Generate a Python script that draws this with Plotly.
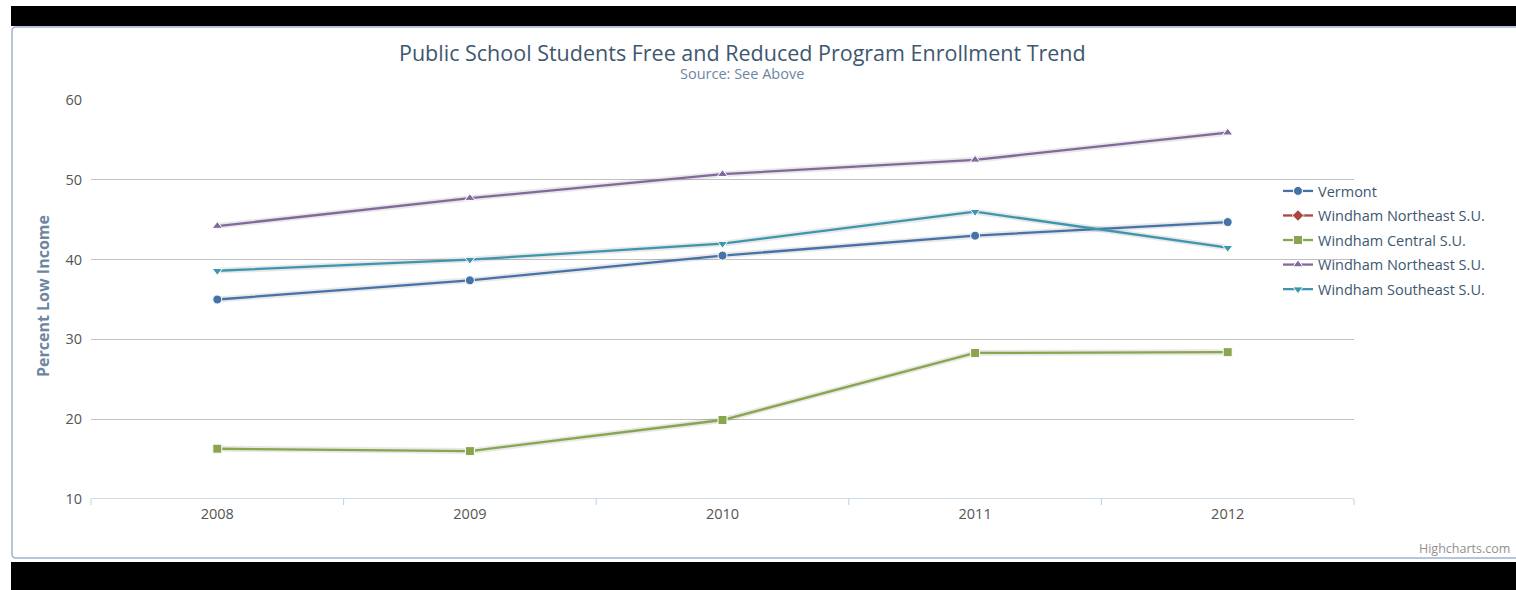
import plotly.graph_objects as go

years = ["2008", "2009", "2010", "2011", "2012"]
vermont = [35.0, 37.4, 40.5, 43.0, 44.7]
windham_northeast = [None, None, None, None, None]
windham_central = [16.3, 16.0, 19.9, 28.3, 28.4]
windham_northeast_2 = [44.2, 47.7, 50.7, 52.5, 55.9]
windham_southeast = [38.6, 40.0, 42.0, 46.0, 41.5]

series = [
    ("Vermont", vermont, "#4572A7", "circle"),
    ("Windham Northeast S.U.", windham_northeast, "#AA4643", "diamond"),
    ("Windham Central S.U.", windham_central, "#89A54E", "square"),
    ("Windham Northeast S.U.", windham_northeast_2, "#80699B", "triangle-up"),
    ("Windham Southeast S.U.", windham_southeast, "#3D96AE", "triangle-down"),
]

W, H = 1516, 590
L, R, T, B = 91, 1354, 100, 499
FONT = "Open Sans"

def px(x):
    return (x - L) / (R - L)

def py(y):
    return (B - y) / (B - T)

fig = go.Figure()

# shadows
for name, vals, color, sym in series:
    fig.add_trace(go.Scatter(
        x=years, y=vals, mode="lines", showlegend=False, hoverinfo="skip",
        line=dict(color="rgba(0,0,0,0.09)", width=6),
    ))

for i, (name, vals, color, sym) in enumerate(series):
    fig.add_trace(go.Scatter(
        x=years, y=vals, name=name, mode="lines+markers",
        legendgroup=f"g{i}",
        line=dict(color=color, width=2.3),
        marker=dict(symbol=sym, size=9, color=color, line=dict(color="white", width=1)),
    ))

shapes = [
    dict(type="rect", xref="paper", yref="paper", x0=px(11), x1=px(1520), y0=py(26), y1=py(6),
         fillcolor="black", line=dict(width=0), layer="above"),
    dict(type="rect", xref="paper", yref="paper", x0=px(11), x1=px(1520), y0=py(594), y1=py(562),
         fillcolor="black", line=dict(width=0), layer="above"),
    dict(type="path", xref="paper", yref="paper",
         path=f"M {px(1530)},{py(27)} L {px(16)},{py(27)} Q {px(12)},{py(27)} {px(12)},{py(31)} "
              f"L {px(12)},{py(554)} Q {px(12)},{py(558)} {px(16)},{py(558)} L {px(1530)},{py(558)}",
         line=dict(color="#9FB3CF", width=1.5), layer="below"),
]

annotations = [
    dict(text="Public School Students Free and Reduced Program Enrollment Trend",
         xref="paper", yref="paper", x=px(742), y=py(53), showarrow=False,
         xanchor="center", yanchor="middle", font=dict(family=FONT, size=21.5, color="#3E576F")),
    dict(text="Source: See Above",
         xref="paper", yref="paper", x=px(742), y=py(74), showarrow=False,
         xanchor="center", yanchor="middle", font=dict(family=FONT, size=14.5, color="#6D869F")),
    dict(text="Highcharts.com",
         xref="paper", yref="paper", x=px(1512), y=py(548), showarrow=False,
         xanchor="right", yanchor="middle", font=dict(family=FONT, size=12.5, color="#909090")),
    dict(text="<b>Percent Low Income</b>",
         xref="paper", yref="paper", x=px(43), y=py(296), showarrow=False, textangle=-90,
         xanchor="center", yanchor="middle", font=dict(family=FONT, size=16, color="#6D869F")),
]

for k in range(len(years) + 1):
    xp = px(L + k * (R - L) / len(years))
    shapes.append(dict(type="line", xref="paper", yref="paper", x0=xp, x1=xp,
                       y0=py(499), y1=py(505), line=dict(color="#C0D0E0", width=1)))

fig.update_layout(
    width=W, height=H,
    margin=dict(l=L, r=W - R, t=T, b=H - B),
    paper_bgcolor="white", plot_bgcolor="white",
    showlegend=True,
    legend=dict(x=px(1278), y=py(175), xanchor="left", yanchor="top",
                font=dict(family=FONT, size=14.5, color="#3E576F"),
                tracegroupgap=2.7, bgcolor="rgba(0,0,0,0)", itemwidth=30),
    xaxis=dict(type="category", range=[-0.5, 4.5], showgrid=False, zeroline=False,
               showline=False, ticks="", ticklabelstandoff=4,
               tickfont=dict(family=FONT, size=14.5, color="#555"), fixedrange=True),
    yaxis=dict(range=[10, 60], dtick=10, showgrid=True, gridcolor="#C0C0C0", gridwidth=1,
               zeroline=False, showline=False, ticks="", ticklabelstandoff=8,
               tickfont=dict(family=FONT, size=14.5, color="#555"), fixedrange=True),
    shapes=shapes,
    annotations=annotations,
    hovermode=False,
)
fig.add_shape(type="line", xref="paper", yref="y", x0=0, x1=1, y0=10, y1=10,
              line=dict(color="#C0D0E0", width=1.5), layer="above")

fig.write_html("out.html", config={"displayModeBar": False},
               post_script="document.body.style.margin='0';")
